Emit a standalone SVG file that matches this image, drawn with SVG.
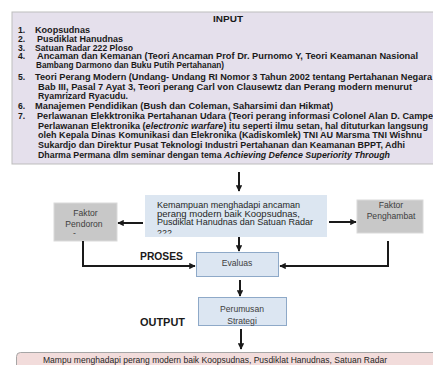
<svg xmlns="http://www.w3.org/2000/svg" width="433" height="365" viewBox="0 0 433 365">
<style>
.in{font-family:"Liberation Sans",Arial,sans-serif;font-size:8.6px;font-weight:bold;fill:#1a1a1a}
.it{font-style:italic}
.nm{font-family:"Liberation Sans",Arial,sans-serif;font-size:9px;fill:#262626}
.gr{font-family:"Liberation Sans",Arial,sans-serif;font-size:8.6px;fill:#404040}
.lb{font-family:"Liberation Sans",Arial,sans-serif;font-weight:bold;fill:#1a1a1a}
.con{stroke:#1a1a1a;stroke-width:2;fill:none}
</style>
<defs>
<marker id="ah" viewBox="0 0 10 10" refX="9" refY="5" markerWidth="3.2" markerHeight="3.2" orient="auto" markerUnits="strokeWidth">
<path d="M0,0 L10,5 L0,10 z" fill="#1a1a1a"/>
</marker>
<clipPath id="kc"><rect x="145" y="195" width="182" height="38.5"/></clipPath>
</defs>
<rect width="433" height="365" fill="#ffffff"/>

<g id="input">
<rect x="12" y="12" width="430" height="152" fill="#e5e0ec" stroke="#bdbdbd" stroke-width="1"/>
<text class="in" x="228" y="22" text-anchor="middle" textLength="30" lengthAdjust="spacingAndGlyphs">INPUT</text>
<text class="in" x="18" y="33">1.</text>
<text class="in" x="35" y="33" textLength="55" lengthAdjust="spacingAndGlyphs">Koopsudnas</text>
<text class="in" x="18" y="41.8">2.</text>
<text class="in" x="37" y="41.8" textLength="86" lengthAdjust="spacingAndGlyphs">Pusdiklat Hanudnas</text>
<text class="in" x="18" y="50.6">3.</text>
<text class="in" x="35" y="50.6" textLength="98" lengthAdjust="spacingAndGlyphs">Satuan Radar 222 Ploso</text>
<text class="in" x="18" y="59.4">4.</text>
<text class="in" x="37" y="59.4" textLength="381" lengthAdjust="spacingAndGlyphs">Ancaman dan Kemanan (Teori Ancaman Prof Dr. Purnomo Y, Teori Keamanan Nasional</text>
<text class="in" x="36" y="68.2" textLength="188" lengthAdjust="spacingAndGlyphs">Bambang Darmono dan Buku Putih Pertahanan)</text>
<text class="in" x="18" y="80">5.</text>
<text class="in" x="35" y="80" textLength="397" lengthAdjust="spacingAndGlyphs">Teori Perang Modern (Undang- Undang RI Nomor 3 Tahun 2002 tentang Pertahanan Negara</text>
<text class="in" x="38" y="89.7" textLength="374" lengthAdjust="spacingAndGlyphs">Bab III, Pasal 7 Ayat 3, Teori perang Carl von Clausewtz dan  Perang modern menurut</text>
<text class="in" x="38" y="99.4" textLength="90" lengthAdjust="spacingAndGlyphs">Ryamrizard Ryacudu.</text>
<text class="in" x="18" y="109.1">6.</text>
<text class="in" x="35" y="109.1" textLength="298" lengthAdjust="spacingAndGlyphs">Manajemen Pendidikan (Bush dan Coleman, Saharsimi dan Hikmat)</text>
<text class="in" x="18" y="118.8">7.</text>
<text class="in" x="37" y="118.8" textLength="396" lengthAdjust="spacingAndGlyphs">Perlawanan Elekktronika Pertahanan Udara (Teori perang informasi Colonel Alan D. Campe</text>
<text class="in" x="38" y="128.5" textLength="390" lengthAdjust="spacingAndGlyphs">Perlawanan Elektronika (<tspan class="it">electronic  warfare</tspan>) itu seperti ilmu setan, hal dituturkan langsung</text>
<text class="in" x="38" y="138.2" textLength="384" lengthAdjust="spacingAndGlyphs">oleh Kepala Dinas Komunikasi dan Elekronika (Kadiskomlek) TNI AU Marsma TNI Wishnu</text>
<text class="in" x="38" y="147.9" textLength="367" lengthAdjust="spacingAndGlyphs">Sukardjo dan Direktur Pusat Teknologi Industri Pertahanan  dan Keamanan BPPT, Adhi</text>
<text class="in" x="38" y="157.6" textLength="352" lengthAdjust="spacingAndGlyphs">Dharma Permana dlm seminar dengan tema <tspan class="it">Achieving Defence  Superiority Through</tspan></text>
</g>

<g id="kemampuan">
<rect x="145" y="195" width="182" height="42" fill="#dce6f1"/>
<g clip-path="url(#kc)">
<text class="nm" x="157" y="208" textLength="143" lengthAdjust="spacingAndGlyphs">Kemampuan menghadapi ancaman</text>
<text class="nm" x="157" y="216.5" textLength="143" lengthAdjust="spacingAndGlyphs">perang modern baik Koopsudnas,</text>
<text class="nm" x="157" y="225" textLength="156" lengthAdjust="spacingAndGlyphs">Pusdiklat Hanudnas  dan Satuan Radar</text>
<text class="nm" x="157" y="235.5">222</text>
</g>
</g>

<g id="pendoron">
<rect x="54" y="203" width="63" height="38" fill="#c8c8c8" stroke="#dadada" stroke-width="1"/>
<text class="gr" x="85.5" y="216" text-anchor="middle">Faktor</text>
<text class="gr" x="84" y="227" text-anchor="middle">Pendoron</text>
<text class="gr" x="73" y="236">-</text>
</g>

<g id="penghambat">
<rect x="357" y="200" width="66" height="33" fill="#c8c8c8" stroke="#dadada" stroke-width="1"/>
<text class="gr" x="391" y="208" text-anchor="middle">Faktor</text>
<text class="gr" x="391" y="219" text-anchor="middle">Penghambat</text>
</g>

<g id="evaluas">
<rect x="196.5" y="252.5" width="82" height="24" fill="#dce6f2" stroke="#8ea9c8" stroke-width="1"/>
<text class="gr" x="237" y="265.5" text-anchor="middle">Evaluas</text>
</g>

<g id="perumusan">
<rect x="198.5" y="297.5" width="88" height="28" fill="#dce6f2" stroke="#8ea9c8" stroke-width="1"/>
<text class="gr" x="242" y="312" text-anchor="middle">Perumusan</text>
<text class="gr" x="242" y="324" text-anchor="middle">Strategi</text>
</g>

<g id="output">
<rect x="16.5" y="352.5" width="430" height="30" rx="4" fill="#f2dcdb" stroke="#a6a6a6" stroke-width="1"/>
<text class="nm" x="215" y="363" text-anchor="middle" textLength="344" lengthAdjust="spacingAndGlyphs">Mampu menghadapi perang modern baik Koopsudnas, Pusdiklat Hanudnas, Satuan Radar</text>
</g>

<g id="labels">
<text class="lb" x="140" y="260" font-size="10" textLength="43" lengthAdjust="spacingAndGlyphs">PROSES</text>
<text class="lb" x="140" y="326" font-size="10.5" textLength="45" lengthAdjust="spacingAndGlyphs">OUTPUT</text>
</g>

<g id="connectors">
<line class="con" x1="239" y1="172" x2="239" y2="191" marker-end="url(#ah)"/>
<line class="con" x1="143" y1="223" x2="118" y2="223" marker-end="url(#ah)"/>
<line class="con" x1="329" y1="222" x2="356" y2="222" marker-end="url(#ah)"/>
<line class="con" x1="239" y1="237" x2="239" y2="251" marker-end="url(#ah)"/>
<polyline class="con" points="83,241 83,266 195,266" marker-end="url(#ah)"/>
<polyline class="con" points="388,241 388,266 280,266" marker-end="url(#ah)"/>
<line class="con" x1="240" y1="280" x2="240" y2="296" marker-end="url(#ah)"/>
<line class="con" x1="241" y1="329" x2="241" y2="349" marker-end="url(#ah)"/>
</g>
</svg>
